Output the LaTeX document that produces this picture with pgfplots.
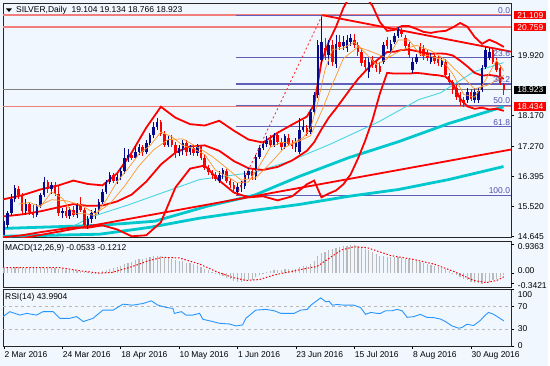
\documentclass[border=0pt]{standalone}
\usepackage{pgfplots}
\usepackage{pgfplotstable}
\pgfplotsset{compat=1.18}
\usepackage{fontspec}
\setmainfont{Liberation Sans}
\definecolor{bg}{RGB}{240,247,255}
\definecolor{bull}{RGB}{10,10,140}
\definecolor{bear}{RGB}{255,0,0}
\definecolor{fib}{RGB}{95,95,185}
\definecolor{fibtxt}{RGB}{80,80,170}
\definecolor{hline}{RGB}{242,125,125}
\definecolor{cyanthick}{RGB}{0,200,205}
\definecolor{cyanthin}{RGB}{70,215,225}
\definecolor{maor}{RGB}{255,150,40}
\definecolor{rsiblue}{RGB}{40,150,255}
\definecolor{histgray}{RGB}{185,185,185}
\newcommand\mtfont{\fontsize{8.5}{10}\selectfont}

\pgfplotstableread{
i o h l c
0 14.79 15.08 14.67 14.99
1 14.96 15.37 14.87 15.31
2 15.31 15.87 15.22 15.72
3 15.72 16.13 15.63 16.04
6 15.37 15.72 15.25 15.57
9 15.25 15.57 15.19 15.52
10 15.52 15.92 15.46 15.84
11 15.84 16.36 15.78 16.22
13 16.01 16.22 15.89 16.13
16 15.31 15.46 15.17 15.37
18 15.22 15.49 15.14 15.40
20 15.25 15.60 15.17 15.55
23 14.96 15.22 14.84 15.14
24 15.14 15.40 15.02 15.31
25 15.31 15.46 15.14 15.37
26 15.37 15.72 15.28 15.63
27 15.63 16.01 15.57 15.95
28 15.95 16.30 15.89 16.22
29 16.22 16.51 16.16 16.42
31 16.25 16.45 16.16 16.36
32 16.36 16.65 16.30 16.54
33 16.54 17.21 16.45 16.92
34 16.92 17.18 16.80 17.03
36 16.94 17.27 16.89 17.12
37 17.12 17.35 17.03 17.24
39 17.12 17.47 17.06 17.38
40 17.38 17.67 17.32 17.59
41 17.59 17.97 17.53 17.85
42 17.85 18.11 17.76 17.99
45 17.32 17.56 17.24 17.47
48 17.09 17.30 17.00 17.21
49 17.21 17.47 17.03 17.38
51 17.12 17.32 17.03 17.21
53 17.09 17.35 17.00 17.27
59 16.27 16.54 16.19 16.42
60 16.42 16.65 16.33 16.57
64 15.95 16.19 15.84 16.07
65 16.07 16.25 15.95 16.13
66 16.10 16.54 16.01 16.42
67 16.42 16.65 16.33 16.54
69 16.39 17.03 16.30 16.97
70 16.97 17.30 16.89 17.21
71 17.21 17.44 17.15 17.35
72 17.35 17.56 17.24 17.44
74 17.30 17.67 17.24 17.59
77 17.24 17.64 17.18 17.56
80 17.24 17.53 17.12 17.41
81 17.12 18.11 17.06 17.76
82 17.76 18.05 17.70 17.85
84 17.70 18.37 17.64 18.29
85 18.29 18.87 18.20 18.78
86 18.78 20.39 18.70 20.24
87 19.80 21.109 19.69 20.33
89 19.95 20.39 19.66 20.24
91 19.69 20.53 19.57 20.27
93 20.21 20.50 20.10 20.33
94 20.15 20.53 20.04 20.39
95 20.33 20.56 20.21 20.45
100 19.45 19.86 19.28 19.74
104 19.74 20.33 19.69 20.24
106 20.04 20.39 19.98 20.27
107 20.33 20.59 20.27 20.50
108 20.50 20.759 20.45 20.68
112 19.51 19.86 19.42 19.74
113 19.74 19.98 19.69 19.89
117 19.74 20.01 19.69 19.89
120 19.66 19.89 19.60 19.80
127 18.64 18.99 18.55 18.87
129 18.64 18.99 18.55 18.87
130 18.64 18.99 18.55 18.90
131 18.93 19.66 18.87 19.57
132 19.60 20.18 19.54 20.10
133 19.86 20.15 19.80 20.04
}\bulltab

\pgfplotstableread{
i o h l c
4 16.01 16.10 15.72 15.84
5 15.84 15.92 15.28 15.37
7 15.57 15.63 15.25 15.34
8 15.34 15.55 15.17 15.25
12 16.22 16.30 15.92 16.01
14 16.13 16.22 15.81 15.92
15 15.89 16.13 15.22 15.31
17 15.37 15.49 15.17 15.22
19 15.40 15.52 15.19 15.25
21 15.55 15.78 15.34 15.40
22 15.40 15.46 14.87 14.96
30 16.42 16.48 16.19 16.25
35 17.03 17.12 16.86 16.94
38 17.24 17.32 17.00 17.12
43 17.97 18.05 17.56 17.64
44 17.64 17.73 17.24 17.32
46 17.47 17.59 17.24 17.32
47 17.32 17.41 16.94 17.09
50 17.38 17.47 17.00 17.12
52 17.21 17.32 17.00 17.09
54 17.27 17.32 16.86 16.94
55 16.94 17.03 16.57 16.65
56 16.65 16.74 16.42 16.51
57 16.51 16.59 16.33 16.42
58 16.42 16.51 16.25 16.33
61 16.54 16.62 16.19 16.25
62 16.25 16.33 16.04 16.13
63 16.13 16.22 15.92 16.01
68 16.54 16.65 16.30 16.39
73 17.47 17.59 17.24 17.30
75 17.59 17.67 17.30 17.41
76 17.41 17.53 17.15 17.24
78 17.53 17.64 17.27 17.35
79 17.35 17.47 17.18 17.27
83 17.82 17.91 17.56 17.64
88 20.15 20.45 19.80 19.95
90 20.24 20.39 19.63 19.74
92 20.33 20.53 20.10 20.18
96 20.39 20.56 20.15 20.24
97 20.24 20.33 19.92 20.04
98 20.04 20.15 19.63 19.72
99 19.80 19.89 19.51 19.60
101 19.80 19.92 19.57 19.66
102 19.69 19.80 19.45 19.57
103 19.63 19.74 19.39 19.45
105 20.39 20.47 20.12 20.21
109 20.65 20.74 20.47 20.56
110 20.45 20.53 20.12 20.21
111 20.27 20.33 19.86 19.95
114 20.18 20.30 19.92 20.01
115 20.12 20.24 19.80 19.92
116 20.01 20.10 19.77 19.86
118 19.92 20.01 19.69 19.77
119 19.83 19.92 19.63 19.72
121 19.74 19.83 19.28 19.37
122 19.34 19.42 19.07 19.16
123 19.16 19.22 18.81 18.93
124 18.99 19.07 18.64 18.72
125 18.78 18.87 18.46 18.58
126 18.64 18.72 18.434 18.55
128 18.87 18.96 18.61 18.67
134 20.10 20.18 19.69 19.74
135 19.74 19.86 19.45 19.51
136 19.57 19.66 19.07 19.13
137 19.104 19.134 18.766 18.923
}\beartab

\pgfplotstableread{
i v
0 0.16
1 0.17
2 0.18
3 0.19
4 0.19
5 0.18
6 0.18
7 0.17
8 0.16
9 0.16
10 0.17
11 0.18
12 0.18
13 0.18
14 0.17
15 0.15
16 0.13
17 0.11
18 0.10
19 0.09
20 0.08
21 0.07
22 0.05
23 0.03
24 0.02
25 0.02
26 0.03
27 0.06
28 0.10
29 0.14
30 0.17
31 0.21
32 0.25
33 0.31
34 0.35
35 0.38
36 0.42
37 0.45
38 0.47
39 0.50
40 0.53
41 0.56
42 0.58
43 0.57
44 0.54
45 0.51
46 0.48
47 0.44
48 0.41
49 0.39
50 0.35
51 0.32
52 0.29
53 0.26
54 0.21
55 0.15
56 0.09
57 0.03
58 -0.03
59 -0.07
60 -0.10
61 -0.15
62 -0.20
63 -0.25
64 -0.28
65 -0.29
66 -0.26
67 -0.23
68 -0.21
69 -0.14
70 -0.07
71 -0.01
72 0.04
73 0.06
74 0.10
75 0.11
76 0.11
77 0.13
78 0.13
79 0.12
80 0.13
81 0.19
82 0.23
83 0.24
84 0.31
85 0.39
86 0.55
87 0.65
88 0.71
89 0.77
90 0.79
91 0.84
92 0.87
93 0.89
94 0.91
95 0.93
96 0.9363
97 0.91
98 0.86
99 0.80
100 0.75
101 0.69
102 0.63
103 0.57
104 0.56
105 0.54
106 0.53
107 0.52
108 0.52
109 0.51
110 0.48
111 0.45
112 0.42
113 0.39
114 0.36
115 0.33
116 0.30
117 0.27
118 0.24
119 0.21
120 0.18
121 0.14
122 0.08
123 0.02
124 -0.06
125 -0.13
126 -0.20
127 -0.24
128 -0.28
129 -0.31
130 -0.33
131 -0.3421
132 -0.32
133 -0.28
134 -0.24
135 -0.19
136 -0.13
137 -0.0533
}\macdtab

\pgfplotsset{
  mtpanel/.style={
    scale only axis, width=510pt, xmin=-0.273, xmax=139.07,
    anchor=north west,
    axis line style={draw=black!85, line width=0.8pt},
    xtick=\empty, ytick pos=right, tick align=outside,
    major tick length=3pt, tick style={black, line width=0.6pt},
    yticklabel style={font=\mtfont, text=black},
    axis background/.style={fill=bg},
    clip mode=individual,
  }
}

\begin{document}
\begin{tikzpicture}
\path[fill=bg] (0pt,0pt) rectangle (550pt,-367pt);

% ---------------- main price panel ----------------
\begin{axis}[mtpanel, at={(3pt,-3pt)}, height=235pt,
  ymin=14.611, ymax=21.4655,
  ytick={14.645,15.520,16.395,17.270,18.170,19.920},
  yticklabels={14.645,15.520,16.395,17.270,18.170,19.920}]

% horizontal price lines
\addplot[hline, line width=1.5pt] coordinates {(-0.273,21.109) (139.07,21.109)};
\addplot[hline, line width=1.5pt] coordinates {(-0.273,20.759) (139.07,20.759)};
\addplot[hline, line width=1.5pt] coordinates {(-0.273,18.434) (139.07,18.434)};
\addplot[gray, line width=0.8pt] coordinates {(-0.273,18.923) (139.07,18.923)};

% fibonacci levels
\addplot[fib, line width=1.1pt] coordinates {(63.7,21.109) (139.07,21.109)};
\addplot[fib, line width=1.1pt] coordinates {(63.7,19.866) (139.07,19.866)};
\addplot[fib, line width=1.1pt] coordinates {(63.7,19.096) (139.07,19.096)};
\addplot[fib, line width=1.1pt] coordinates {(63.7,18.4745) (139.07,18.4745)};
\addplot[fib, line width=1.1pt] coordinates {(63.7,17.853) (139.07,17.853)};
\addplot[fib, line width=1.1pt] coordinates {(63.7,15.84) (139.07,15.84)};

% moving averages (cyan)
\addplot[cyanthick, line width=2.8pt] coordinates {(-0.27,14.64) (26.2,14.70) (39.9,14.90) (53.6,15.17) (68.6,15.40) (80.9,15.57) (94.5,15.81) (108.2,16.01) (121.9,16.30) (136.9,16.68)};
\addplot[cyanthick, line width=2.8pt] coordinates {(-0.27,14.87) (26.2,14.96) (41.3,15.08) (55.7,15.52) (68.6,15.84) (80.9,16.39) (94.5,16.94) (108.2,17.41) (121.9,17.94) (136.9,18.43)};
\addplot[cyanthin, line width=0.9pt] coordinates {(13.9,14.67) (24.3,15.22) (34.4,15.57) (53.6,16.30) (68.6,16.51) (78.1,16.83) (89.1,17.32) (102.7,17.99) (113.7,18.64) (119.7,18.84) (128.7,19.45) (136.9,19.72)};

% trend lines
\addplot[bear, line width=1.8pt] coordinates {(-0.273,14.48) (139.07,17.18)};
\addplot[bear, line width=1.8pt] coordinates {(87.2,21.11) (139.07,20.04)};

% Bollinger bands
\addplot[bear, line width=1.8pt] coordinates {(-0.27,15.72) (5,15.84) (10,16.01) (15,16.13) (19,16.27) (23,16.17) (27,16.13) (31,16.48) (35,17.09) (39,17.82) (43,18.43) (47,18.11) (51,17.92) (55,17.88) (59,18.02) (63,17.73) (67,17.47) (71,17.38) (75,17.67) (79,17.91) (83,18.14) (85,18.49) (87,19.74) (89,20.33) (91,20.77) (93,21.32) (95,21.70) (97,21.79) (99,21.67) (101,21.38) (103,20.91) (105,20.65) (107,20.68) (109,20.79) (111,20.79) (113,20.71) (115,20.62) (117,20.59) (119,20.63) (121,20.65) (123,20.75) (125,20.88) (127,20.77) (129,20.47) (131,20.27) (133,20.39) (135,20.30) (137,20.18)};
\addplot[bear, line width=1.8pt] coordinates {(-0.27,15.22) (5,15.28) (10,15.37) (15,15.49) (19,15.58) (23,15.53) (27,15.54) (31,15.66) (35,15.86) (39,16.24) (43,16.74) (47,17.09) (51,17.27) (55,17.30) (59,17.14) (63,16.84) (67,16.63) (71,16.58) (75,16.67) (79,16.86) (83,17.14) (85,17.39) (87,17.77) (89,18.11) (91,18.38) (93,18.67) (95,18.96) (97,19.24) (99,19.47) (101,19.68) (103,19.86) (105,20.03) (107,20.04) (109,20.09) (111,20.10) (113,20.06) (115,20.01) (117,19.98) (119,19.99) (121,19.98) (123,19.93) (125,19.78) (127,19.61) (129,19.42) (131,19.34) (133,19.36) (135,19.33) (137,19.25)};
\addplot[bear, line width=1.8pt] coordinates {(-0.27,14.61) (5,14.67) (10,14.76) (15,14.84) (19,14.90) (23,14.89) (27,14.96) (31,14.84) (35,14.64) (39,14.67) (43,15.05) (47,16.07) (51,16.62) (55,16.71) (59,16.27) (63,15.92) (67,15.78) (71,15.81) (75,15.69) (79,15.81) (83,16.16) (85,16.27) (87,15.78) (89,15.89) (91,15.98) (93,16.16) (95,16.45) (97,16.91) (99,17.44) (101,18.05) (103,18.81) (105,19.42) (107,19.40) (109,19.40) (111,19.40) (113,19.42) (115,19.40) (117,19.37) (119,19.35) (121,19.31) (123,19.12) (125,18.67) (127,18.44) (129,18.37) (131,18.40) (133,18.35) (135,18.37) (137,18.31)};

% candles
\addplot[draw=none, mark=none, error bars/.cd, y dir=both, y explicit, error mark=none,
  error bar style={line width=0.9pt, draw=bull}]
  table[x=i, y expr={(\thisrow{h}+\thisrow{l})/2}, y error expr={(\thisrow{h}-\thisrow{l})/2}] {\bulltab};
\addplot[draw=none, mark=none, error bars/.cd, y dir=both, y explicit, error mark=none,
  error bar style={line width=2.5pt, draw=bull}]
  table[x=i, y expr={(\thisrow{o}+\thisrow{c})/2}, y error expr={max(abs(\thisrow{c}-\thisrow{o})/2,0.015)}] {\bulltab};
\addplot[draw=none, mark=none, error bars/.cd, y dir=both, y explicit, error mark=none,
  error bar style={line width=0.9pt, draw=bear}]
  table[x=i, y expr={(\thisrow{h}+\thisrow{l})/2}, y error expr={(\thisrow{h}-\thisrow{l})/2}] {\beartab};
\addplot[draw=none, mark=none, error bars/.cd, y dir=both, y explicit, error mark=none,
  error bar style={line width=2.5pt, draw=bear}]
  table[x=i, y expr={(\thisrow{o}+\thisrow{c})/2}, y error expr={max(abs(\thisrow{c}-\thisrow{o})/2,0.015)}] {\beartab};

% orange moving averages
\addplot[maor, line width=0.7pt] coordinates {(4,15.58) (7,15.63) (10,15.50) (13,15.94) (16,15.75) (19,15.31) (22,15.31) (25,15.24) (28,15.70) (31,16.24) (34,16.62) (37,17.05) (40,17.29) (43,17.69) (46,17.55) (49,17.30) (52,17.20) (55,17.03) (58,16.57) (61,16.40) (64,16.20) (67,16.23) (70,16.70) (73,17.25) (76,17.39) (79,17.36) (82,17.53) (84,17.79) (86,18.56) (88,19.52) (90,20.10) (93,20.15) (96,20.32) (99,20.01) (102,19.66) (105,19.83) (108,20.38) (111,20.38) (114,19.96) (117,19.91) (120,19.81) (123,19.39) (126,18.79) (129,18.71) (132,19.22) (135,19.79) (137,19.47)};
\addplot[maor, line width=0.7pt] coordinates {(9,15.50) (13,15.71) (17,15.68) (21,15.56) (25,15.30) (29,15.59) (33,16.10) (37,16.70) (41,17.17) (45,17.47) (49,17.49) (53,17.25) (57,16.98) (61,16.64) (65,16.28) (69,16.35) (73,16.78) (77,17.25) (81,17.43) (84,17.58) (87,18.29) (90,19.08) (93,19.84) (97,20.18) (101,20.03) (105,19.85) (109,20.09) (113,20.23) (117,20.07) (121,19.80) (125,19.38) (129,18.95) (133,19.08) (137,19.35)};

% fibonacci trend (dotted)
\addplot[bear!80, line width=0.9pt, dash pattern=on 2pt off 2.5pt] coordinates {(63.7,15.84) (87.2,21.109)};

% fib labels
\node[anchor=south east, font=\mtfont, text=fibtxt, inner sep=1pt] at (axis cs:139.0,21.109) {0.0};
\node[anchor=south east, font=\mtfont, text=fibtxt, inner sep=1pt] at (axis cs:139.0,19.866) {23.6};
\node[anchor=south east, font=\mtfont, text=fibtxt, inner sep=1pt] at (axis cs:139.0,19.096) {38.2};
\node[anchor=south east, font=\mtfont, text=fibtxt, inner sep=1pt] at (axis cs:139.0,18.4745) {50.0};
\node[anchor=south east, font=\mtfont, text=fibtxt, inner sep=1pt] at (axis cs:139.0,17.853) {61.8};
\node[anchor=south east, font=\mtfont, text=fibtxt, inner sep=1pt] at (axis cs:139.0,15.84) {100.0};

% price boxes
\node[anchor=west, fill=bear, text=white, font=\mtfont, inner xsep=3pt, inner ysep=1.3pt, xshift=2.8pt] at (axis cs:139.07,21.109) {21.109};
\node[anchor=west, fill=bear, text=white, font=\mtfont, inner xsep=3pt, inner ysep=1.3pt, xshift=2.8pt] at (axis cs:139.07,20.759) {20.759};
\node[anchor=west, fill=black, text=white, font=\mtfont, inner xsep=3pt, inner ysep=1.3pt, xshift=2.8pt] at (axis cs:139.07,18.923) {18.923};
\node[anchor=west, fill=bear, text=white, font=\mtfont, inner xsep=3pt, inner ysep=1.3pt, xshift=2.8pt] at (axis cs:139.07,18.434) {18.434};
\end{axis}

% header
\fill[black] (6pt,-8.5pt) -- (12pt,-8.5pt) -- (9pt,-12pt) -- cycle;
\node[anchor=west, font=\mtfont, inner sep=0pt] at (16pt,-10pt) {SILVER,Daily\ \ 19.104 19.134 18.766 18.923};

% ---------------- MACD panel ----------------
\begin{axis}[mtpanel, at={(3pt,-242pt)}, height=46pt,
  ymin=-0.459, ymax=1.05,
  ytick={0}, yticklabels={0.00},
  yticklabel style={yshift=2.2pt},
  extra y ticks={-0.3421,0.9363},
  extra y tick labels={-0.3421,0.9363},
  extra y tick style={yticklabel style={yshift=-4.2pt}}]
\addplot[ycomb, histgray, line width=1.2pt, mark=none] table[x=i, y=v] {\macdtab};
\addplot[bear, line width=1pt, dash pattern=on 1.5pt off 1.8pt] coordinates {(-0.27,0.18) (15.3,0.18) (20.8,0.08) (26.2,0.00) (29.8,0.03) (35.2,0.22) (39.9,0.42) (43.4,0.52) (48.1,0.50) (53.6,0.30) (58.2,0.05) (62.6,-0.14) (66.4,-0.24) (70,-0.21) (74,-0.06) (83,0.16) (85.8,0.22) (92.4,0.76) (95.9,0.87) (99.5,0.84) (106,0.58) (112.3,0.45) (117.8,0.30) (123.2,0.06) (128.7,-0.24) (132.2,-0.31) (135,-0.24) (137,-0.1212)};
\node[anchor=north west, font=\mtfont, inner sep=0pt] at (rel axis cs:0.004,0.93) {MACD(12,26,9) -0.0533 -0.1212};
\end{axis}

% ---------------- RSI panel ----------------
\begin{axis}[mtpanel, at={(3pt,-290pt)}, height=57pt,
  ymin=0, ymax=100,
  ytick={0,30,70}, yticklabels={0,30,70},
  extra y ticks={100}, extra y tick labels={100},
  extra y tick style={yticklabel style={yshift=-5pt}},
  xtick={0,16,32,48,64,80,96,112,128},
  xticklabels={2 Mar 2016,24 Mar 2016,18 Apr 2016,10 May 2016,1 Jun 2016,23 Jun 2016,15 Jul 2016,8 Aug 2016,30 Aug 2016},
  xtick pos=bottom,
  xticklabel style={font=\mtfont, text=black, anchor=north west, xshift=-3pt, yshift=1pt}]
\addplot[gray!55, line width=0.7pt, dashed] coordinates {(-0.273,70) (139.07,70)};
\addplot[gray!55, line width=0.7pt, dashed] coordinates {(-0.273,30) (139.07,30)};
\addplot[rsiblue, line width=0.9pt] coordinates {(-0.27,51.6) (1.6,60.3) (4.4,54.3) (6.2,57.3) (8.9,54.3) (10.7,60.3) (13.5,60.3) (15.3,48.6) (18.0,48.6) (19.9,51.6) (21.7,42.9) (24.4,48.6) (27.1,63.0) (29.9,63.0) (32.6,73.5) (35.3,71.7) (38.1,74.7) (40.4,79.4) (42.2,71.7) (44.5,67.7) (46.3,66.0) (46.7,57.3) (48.6,60.3) (49.9,54.3) (51.7,54.3) (53.6,57.3) (54.5,46.9) (57.2,42.9) (59.0,39.9) (61.7,38.7) (63.6,35.2) (65.4,37.0) (66.3,48.6) (69.0,63.0) (71.8,64.3) (74.0,62.0) (75.9,57.3) (79.5,57.3) (81.3,63.0) (83.1,64.3) (84.1,71.7) (85.9,80.4) (86.8,84.6) (88.2,77.7) (89.1,78.7) (90.0,71.7) (91.3,73.0) (93.2,71.7) (95.9,71.7) (97.7,67.7) (99.1,55.6) (100.5,59.0) (102.3,57.3) (103.2,57.3) (104.6,62.0) (106.4,62.0) (107.7,64.3) (109.1,62.0) (110.5,50.3) (112.3,51.6) (114.1,55.6) (115.9,50.3) (117.8,49.8) (119.6,47.4) (121.0,42.9) (122.8,35.2) (124.6,31.2) (125.5,32.4) (126.9,38.2) (128.7,35.9) (130.5,44.6) (131.9,54.3) (132.8,59.0) (134.2,55.6) (135.5,50.3) (137,43.99)};
\node[anchor=north west, font=\mtfont, inner sep=0pt] at (rel axis cs:0.004,0.93) {RSI(14) 43.9904};
\end{axis}
\end{tikzpicture}
\end{document}
